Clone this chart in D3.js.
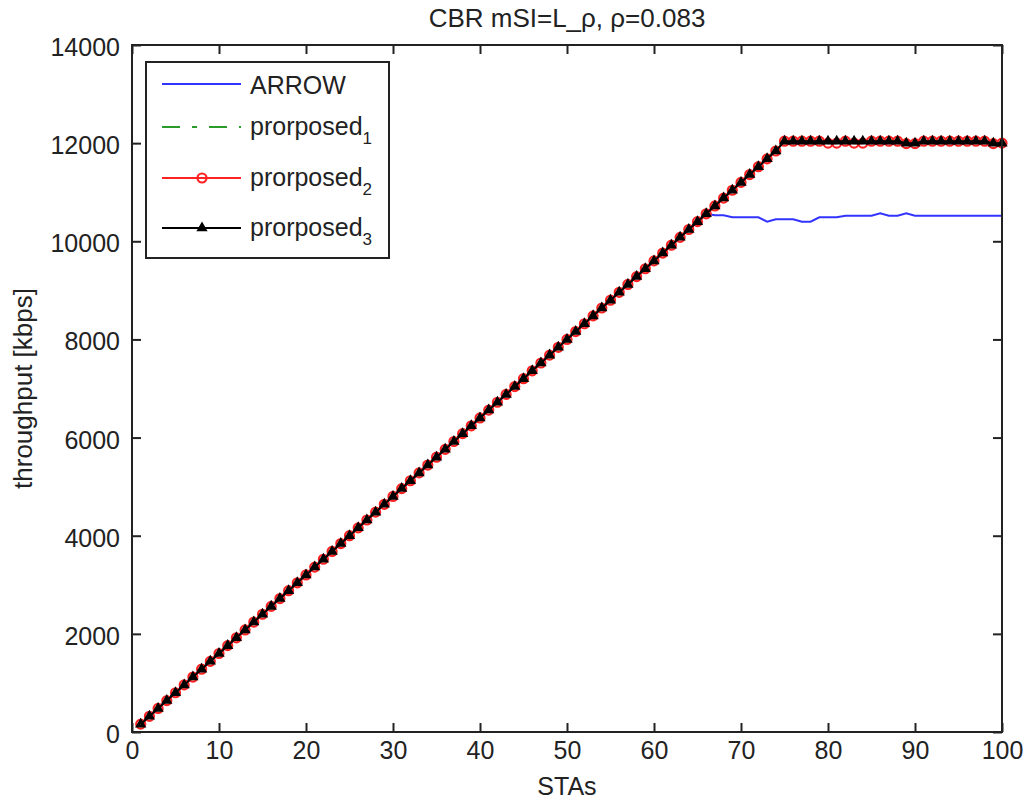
<!DOCTYPE html>
<html><head><meta charset="utf-8">
<script src="https://cdn.jsdelivr.net/npm/d3@7"></script>
<style>body{margin:0;background:#fff}svg{display:block}text{font-family:"Liberation Sans",Arial,sans-serif;fill:#222}</style>
</head><body>
<svg id="c" width="1027" height="802"></svg>
<script>
const stas = d3.range(1, 101);
const arrow = [
160,320,480,640,800,960,1120,1280,1440,1600,
1760,1920,2080,2240,2400,2560,2720,2880,3040,3200,
3360,3520,3680,3840,4000,4160,4320,4480,4640,4800,
4960,5120,5280,5440,5600,5760,5920,6080,6240,6400,
6560,6720,6880,7040,7200,7360,7520,7680,7840,8000,
8160,8320,8480,8640,8800,8960,9120,9280,9440,9600,
9760,9920,10080,10240,10400,10560,10530,10530,10490,10490,
10490,10490,10400,10450,10450,10450,10400,10400,10490,10490,
10490,10520,10520,10520,10520,10570,10520,10520,10570,10520,
10520,10520,10520,10520,10520,10520,10520,10520,10520,10520];
const proposed1 = [
160,320,480,640,800,960,1120,1280,1440,1600,
1760,1920,2080,2240,2400,2560,2720,2880,3040,3200,
3360,3520,3680,3840,4000,4160,4320,4480,4640,4800,
4960,5120,5280,5440,5600,5760,5920,6080,6240,6400,
6560,6720,6880,7040,7200,7360,7520,7680,7840,8000,
8160,8320,8480,8640,8800,8960,9120,9280,9440,9600,
9760,9920,10080,10240,10400,10560,10720,10880,11040,11200,
11360,11520,11680,11840,12040,12000,12040,12040,12000,12040,
12040,12040,12040,12040,12000,12040,12040,12040,12000,12000,
12040,12040,12040,12040,12040,12040,12040,12040,12000,12000];
const proposed2 = [
160,320,480,640,800,960,1120,1280,1440,1600,
1760,1920,2080,2240,2400,2560,2720,2880,3040,3200,
3360,3520,3680,3840,4000,4160,4320,4480,4640,4800,
4960,5120,5280,5440,5600,5760,5920,6080,6240,6400,
6560,6720,6880,7040,7200,7360,7520,7680,7840,8000,
8160,8320,8480,8640,8800,8960,9120,9280,9440,9600,
9760,9920,10080,10240,10400,10560,10720,10880,11040,11200,
11360,11520,11680,11840,12040,12040,12040,12040,12040,12000,
12000,12040,12000,12000,12040,12040,12040,12040,11990,11990,
12040,12040,12040,12040,12040,12040,12040,12040,11990,12000];
const proposed3 = [
160,320,480,640,800,960,1120,1280,1440,1600,
1760,1920,2080,2240,2400,2560,2720,2880,3040,3200,
3360,3520,3680,3840,4000,4160,4320,4480,4640,4800,
4960,5120,5280,5440,5600,5760,5920,6080,6240,6400,
6560,6720,6880,7040,7200,7360,7520,7680,7840,8000,
8160,8320,8480,8640,8800,8960,9120,9280,9440,9600,
9760,9920,10080,10240,10400,10560,10720,10880,11040,11200,
11360,11520,11680,11840,12040,12040,12040,12040,12040,12040,
12040,12040,12040,12040,12040,12040,12040,12040,12000,12000,
12040,12040,12040,12040,12040,12040,12040,12040,12000,12000];
const xTicks = [0,10,20,30,40,50,60,70,80,90,100];
const yTicks = [0,2000,4000,6000,8000,10000,12000,14000];
const legendNames = ["ARROW","prorposed","prorposed","prorposed"];
const legendSubs = ["","1","2","3"];

const L=132,R=1002,T=45,B=732;
const svg=d3.select("#c");
const x=d3.scaleLinear().domain([0,100]).range([L,R]);
const y=d3.scaleLinear().domain([0,14000]).range([B,T]);
const line=d3.line().x((d,i)=>x(stas[i])).y(d=>y(d));

const fs=25;
const tk=9;
const gx=svg.append("g").attr("transform",`translate(0,${B})`)
  .call(d3.axisBottom(x).tickValues(xTicks).tickSize(-tk).tickPadding(12).tickFormat(d3.format("d")));
const gxt=svg.append("g").attr("transform",`translate(0,${T})`)
  .call(d3.axisTop(x).tickValues(xTicks).tickSize(-tk).tickFormat(""));
const gy=svg.append("g").attr("transform",`translate(${L},0)`)
  .call(d3.axisLeft(y).tickValues(yTicks).tickSize(-tk).tickPadding(12).tickFormat(d3.format("d")));
const gyr=svg.append("g").attr("transform",`translate(${R},0)`)
  .call(d3.axisRight(y).tickValues(yTicks).tickSize(-tk).tickFormat(""));
[gx,gxt,gy,gyr].forEach(g=>{
  g.select(".domain").remove();
  g.selectAll(".tick line").attr("stroke","#222").attr("stroke-width",2);
  g.selectAll(".tick text").attr("font-size",fs).attr("fill","#222").style("font-family","Liberation Sans, Arial, sans-serif");
});
gy.selectAll(".tick text").attr("dy","0.42em");
gx.selectAll(".tick text").attr("dy","0.6em");

// series
svg.append("path").datum(arrow).attr("d",line).attr("fill","none").attr("stroke","#3333ff").attr("stroke-width",2);
svg.append("path").datum(proposed1).attr("d",line).attr("fill","none").attr("stroke","#2a9a2a").attr("stroke-width",2).attr("stroke-dasharray","18,12,5,12");
svg.append("path").datum(proposed2).attr("d",line).attr("fill","none").attr("stroke","#ff2222").attr("stroke-width",2);
svg.append("g").selectAll("circle").data(proposed2).join("circle")
  .attr("cx",(d,i)=>x(stas[i])).attr("cy",d=>y(d)).attr("r",4.5)
  .attr("fill","none").attr("stroke","#ff2222").attr("stroke-width",2.2);
svg.append("path").datum(proposed3).attr("d",line).attr("fill","none").attr("stroke","#000").attr("stroke-width",2);
const tri=d3.symbol().type(d3.symbolTriangle).size(16);
svg.append("g").selectAll("path").data(proposed3).join("path")
  .attr("transform",(d,i)=>`translate(${x(stas[i])},${y(d)})`).attr("d",tri)
  .attr("fill","none").attr("stroke","#000").attr("stroke-width",3);

// axes box
svg.append("rect").attr("x",L).attr("y",T).attr("width",R-L).attr("height",B-T)
  .attr("fill","none").attr("stroke","#222").attr("stroke-width",2);

// labels
svg.append("text").attr("x",(L+R)/2).attr("y",27).attr("text-anchor","middle").attr("font-size",26)
  .text("CBR mSI=L_ρ, ρ=0.083");
svg.append("text").attr("x",(L+R)/2).attr("y",795).attr("text-anchor","middle").attr("font-size",fs).text("STAs");
svg.append("text").attr("transform",`translate(32,${(T+B)/2}) rotate(-90)`).attr("text-anchor","middle").attr("font-size",26)
  .text("throughput [kbps]");

// legend
const lg=svg.append("g");
lg.append("rect").attr("x",146).attr("y",62).attr("width",243).attr("height",196)
  .attr("fill","#fff").attr("stroke","#222").attr("stroke-width",2);
const rows=[84,127,178,228];
const lstyle=[
 {c:"#3333ff",dash:null},{c:"#2a9a2a",dash:"18,12,5,12"},{c:"#ff2222",dash:null},{c:"#000",dash:null}];
rows.forEach((ry,i)=>{
  lg.append("line").attr("x1",162).attr("x2",241).attr("y1",ry).attr("y2",ry)
    .attr("stroke",lstyle[i].c).attr("stroke-width",2).attr("stroke-dasharray",lstyle[i].dash);
  const t=lg.append("text").attr("x",250).attr("y",ry+(i===0?10:8)).attr("font-size",fs);
  t.append("tspan").text(legendNames[i]);
  if(legendSubs[i]) t.append("tspan").attr("font-size",17).attr("dy",9).text(legendSubs[i]);
});
lg.append("circle").attr("cx",202).attr("cy",rows[2]).attr("r",4.5).attr("fill","none").attr("stroke","#ff2222").attr("stroke-width",2.2);
lg.append("path").attr("transform",`translate(202,${rows[3]})`).attr("d",tri).attr("fill","none").attr("stroke","#000").attr("stroke-width",3);
</script>
</body></html>
